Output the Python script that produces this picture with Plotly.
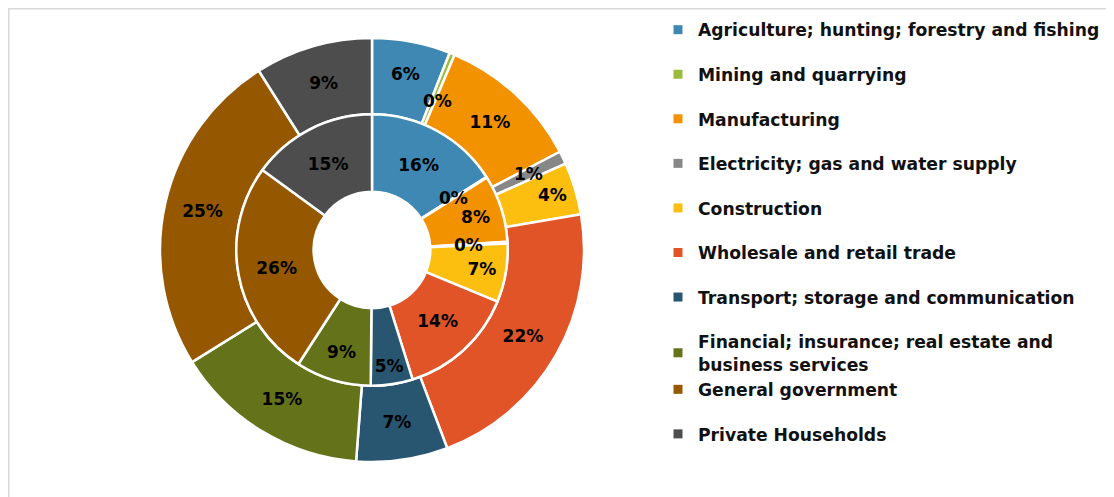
import math
import plotly.graph_objects as go

categories = [
    "Agriculture; hunting; forestry and fishing",
    "Mining and quarrying",
    "Manufacturing",
    "Electricity; gas and water supply",
    "Construction",
    "Wholesale and retail trade",
    "Transport; storage and communication",
    "Financial; insurance; real estate and<br>business services",
    "General government",
    "Private Households",
]
outer_values = [6, 0.4, 11, 1, 4, 22, 7, 15, 25, 9]
inner_values = [16, 0.1, 8, 0.2, 7, 14, 5, 9, 26, 15]
colors = ["#3F88B4", "#9BBB3B", "#F39200", "#878787", "#FDBF0F",
          "#E05428", "#285670", "#647219", "#955800", "#4D4D4D"]
legend_groups = ["g1", "g2", "g3", "g4", "g5", "g6", "g7", "g8", "g8", "g10"]

# figure sits 8px inside the page (browser body margin)
W, H = 1106, 489
cx, cy = 364, 242
R_out = 212
ring_split = 0.64
R_in = R_out * ring_split
hole_out = ring_split
hole_in = 0.43
SMALL = 1.5  # percent below which the label is placed as an annotation

FONT = "DejaVu Sans"
text_font = dict(family=FONT, size=17, color="black")


def dom(r):
    return dict(x=[(cx - r) / W, (cx + r) / W], y=[1 - (cy + r) / H, 1 - (cy - r) / H])


def small_labels(values, radius, hole):
    total = sum(values)
    r_mid = radius * (1 + hole) / 2
    anns = []
    cum = 0
    for v in values:
        pct = 100 * v / total
        if pct < SMALL:
            th = 2 * math.pi * (cum + v / 2) / total
            x = cx + r_mid * math.sin(th)
            y = cy - r_mid * math.cos(th)
            anns.append(dict(x=x / W, y=1 - y / H, xref="paper", yref="paper",
                             text=f"<b>{round(pct)}%</b>", showarrow=False,
                             font=text_font))
        cum += v
    return anns


def positions(values):
    total = sum(values)
    return ["none" if 100 * v / total < SMALL else "inside" for v in values]


fig = go.Figure()
for vals, radius, hole in [(outer_values, R_out, hole_out), (inner_values, R_in, hole_in)]:
    fig.add_trace(go.Pie(
        labels=categories, values=vals, sort=False, direction="clockwise",
        hole=hole, domain=dom(radius),
        marker=dict(colors=colors, line=dict(color="white", width=2.5)),
        texttemplate="<b>%{percent:.0%}</b>", textposition=positions(vals),
        insidetextorientation="horizontal", textfont=text_font,
        showlegend=False, hoverinfo="label+percent",
    ))

for name, col, grp in zip(categories, colors, legend_groups):
    fig.add_trace(go.Scatter(
        x=[None], y=[None], mode="markers", name=f"<b>{name}</b>",
        marker=dict(symbol="square", size=9, color=col),
        legendgroup=grp, showlegend=True,
    ))

annotations = small_labels(outer_values, R_out, hole_out) + small_labels(inner_values, R_in, hole_in)

fig.update_layout(
    width=W, height=H,
    margin=dict(l=0, r=0, t=0, b=0),
    paper_bgcolor="white", plot_bgcolor="white",
    xaxis=dict(visible=False), yaxis=dict(visible=False),
    uniformtext=dict(minsize=17, mode="show"),
    legend=dict(
        x=650 / W, y=1 - 4 / H, xanchor="left", yanchor="top",
        traceorder="grouped", tracegroupgap=19.2,
        font=dict(family=FONT, size=17.2, color="#111111"),
        bgcolor="rgba(0,0,0,0)",
    ),
    annotations=annotations,
    shapes=[dict(type="rect", xref="paper", yref="paper",
                 x0=0.5 / W, x1=1.01, y0=-0.01, y1=1 - 0.5 / H,
                 line=dict(color="#D9D9D9", width=2), layer="below")],
)
fig.write_html("out.html")
